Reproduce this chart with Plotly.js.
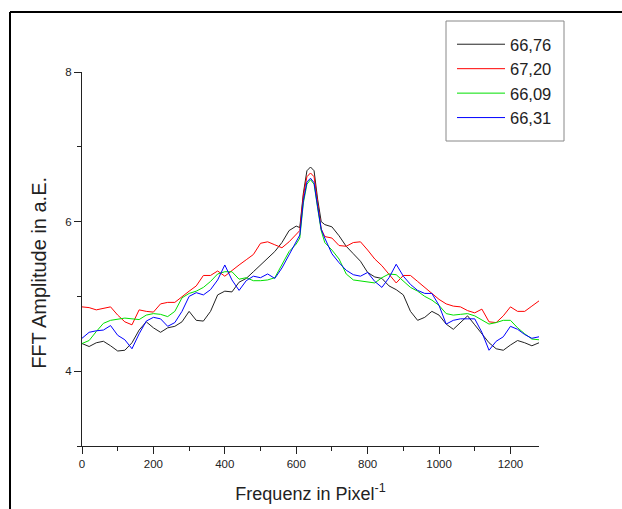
<!DOCTYPE html>
<html>
<head>
<meta charset="utf-8">
<script src="https://cdn.plot.ly/plotly-3.0.1.min.js"></script>
<style>
  html, body { margin: 0; padding: 0; background: #fff; }
  #chart { width: 622px; height: 509px; }
</style>
</head>
<body>
<div id="chart"></div>
<script>
// Frequency axis (Pixel^-1)
const freq = [0,20,40,60,80,100,120,140,160,180,200,220,240,260,280,300,320,340,360,380,400,420,440,460,480,500,520,540,560,580,600,
  610,620,630,640,650,660,670,680,
  700,720,740,760,780,800,820,840,860,880,900,920,940,960,980,1000,1020,1040,1060,1080,1100,1120,1140,1160,1180,1200,1220,1240,1260,1280];

const seriesNames = ["66,76", "67,20", "66,09", "66,31"];

const amp6676 = [4.37,4.33,4.38,4.40,4.34,4.27,4.28,4.38,4.55,4.66,4.58,4.52,4.58,4.60,4.66,4.80,4.68,4.67,4.80,5.02,5.07,5.06,5.19,5.24,5.33,5.42,5.50,5.60,5.72,5.88,5.94,
  5.92,6.38,6.68,6.73,6.68,6.30,6.00,5.96,
  5.93,5.81,5.67,5.57,5.47,5.32,5.26,5.24,5.14,5.09,5.02,4.80,4.68,4.72,4.80,4.75,4.63,4.56,4.65,4.74,4.62,4.50,4.38,4.30,4.28,4.35,4.41,4.38,4.34,4.38];

const amp6720 = [4.86,4.85,4.82,4.84,4.86,4.75,4.66,4.62,4.82,4.80,4.79,4.90,4.92,4.92,5.00,5.07,5.14,5.28,5.28,5.34,5.27,5.35,5.42,5.49,5.56,5.71,5.73,5.69,5.65,5.73,5.83,
  5.88,6.35,6.60,6.65,6.60,6.25,5.90,5.80,
  5.78,5.68,5.67,5.72,5.73,5.62,5.50,5.41,5.30,5.18,5.28,5.28,5.20,5.12,5.04,4.96,4.90,4.87,4.86,4.81,4.78,4.83,4.66,4.65,4.74,4.86,4.80,4.80,4.87,4.94];

const amp6609 = [4.37,4.41,4.53,4.64,4.68,4.70,4.71,4.70,4.69,4.75,4.77,4.76,4.73,4.80,4.98,5.04,5.07,5.12,5.20,5.30,5.33,5.33,5.23,5.25,5.21,5.21,5.22,5.25,5.42,5.60,5.70,
  5.78,6.25,6.50,6.56,6.50,6.18,5.88,5.72,
  5.62,5.50,5.30,5.22,5.21,5.20,5.18,5.25,5.30,5.29,5.20,5.12,5.07,5.00,4.95,4.88,4.77,4.75,4.76,4.77,4.74,4.69,4.63,4.65,4.68,4.68,4.58,4.50,4.43,4.42];

const amp6631 = [4.44,4.52,4.54,4.55,4.61,4.48,4.42,4.30,4.50,4.67,4.72,4.70,4.60,4.65,4.80,5.00,5.05,5.02,5.09,5.22,5.42,5.22,5.08,5.21,5.27,5.25,5.30,5.24,5.38,5.56,5.74,
  5.82,6.28,6.53,6.58,6.52,6.20,5.90,5.78,
  5.57,5.45,5.35,5.29,5.27,5.32,5.20,5.12,5.25,5.43,5.27,5.16,5.08,5.04,5.04,4.88,4.63,4.68,4.70,4.70,4.70,4.52,4.28,4.40,4.46,4.60,4.56,4.49,4.44,4.46];

const xTickVals = [0,200,400,600,800,1000,1200];
const yTickVals = [4,6,8];

const colors = ["#222222", "#ff0000", "#00e000", "#0000ff"];
const ampSeries = [amp6676, amp6720, amp6609, amp6631];

const traces = ampSeries.map((a, i) => ({
  x: freq, y: a, type: "scatter", mode: "lines", name: seriesNames[i],
  line: { color: colors[i], width: 1 }
}));

// geometry helpers (pixel -> paper)
const L = 82, R = 83, T = 72, B = 63, W = 622, H = 509;
const pw = W - L - R, ph = H - T - B;
const px = p => (p - L) / pw;
const py = p => (H - B - p) / ph;

const layout = {
  width: W, height: H,
  margin: { l: L, r: R, t: T, b: B, pad: 0 },
  paper_bgcolor: "#fff", plot_bgcolor: "#fff",
  font: { family: "Liberation Sans, Arial, sans-serif", color: "#222" },
  showlegend: true,
  legend: {
    x: px(452), y: py(27), xanchor: "left", yanchor: "top",
    bgcolor: "rgba(0,0,0,0)", borderwidth: 0,
    font: { size: 16.5, color: "#222" },
    itemwidth: 48, tracegroupgap: 0
  },
  xaxis: {
    range: [0, 1280], showgrid: false, zeroline: false,
    showline: true, linecolor: "#222", linewidth: 1, mirror: false,
    ticks: "outside", ticklen: 7, tickwidth: 1, tickcolor: "#222",
    tickvals: xTickVals, ticktext: xTickVals.map(String),
    minor: { dtick: 100, tick0: 0, ticks: "outside", ticklen: 4, tickcolor: "#222", showgrid: false },
    tickfont: { size: 11.5, color: "#222" },
    title: { text: "Frequenz in Pixel<sup>-1</sup>", font: { size: 18, color: "#222" }, standoff: 18 }
  },
  yaxis: {
    range: [3, 8], showgrid: false, zeroline: false,
    showline: true, linecolor: "#222", linewidth: 1,
    ticks: "outside", ticklen: 7, tickwidth: 1, tickcolor: "#222",
    tickvals: yTickVals, ticktext: yTickVals.map(String),
    minor: { dtick: 1, tick0: 3, ticks: "outside", ticklen: 4, tickcolor: "#222", showgrid: false },
    tickfont: { size: 11.5, color: "#222" },
    title: { text: "FFT Amplitude in a.E.&nbsp;&nbsp;&nbsp;&nbsp;&nbsp;", font: { size: 20, color: "#222" }, standoff: 13 }
  },
  shapes: [
    { type: "rect", xref: "paper", yref: "paper", x0: px(446), x1: px(564), y0: py(141), y1: py(21),
      line: { color: "#888", width: 1 }, fillcolor: "rgba(0,0,0,0)", layer: "below" },
    { type: "line", xref: "paper", yref: "paper", x0: px(10), x1: px(622), y0: py(12), y1: py(12),
      line: { color: "#000", width: 2 } },
    { type: "line", xref: "paper", yref: "paper", x0: px(10), x1: px(10), y0: py(12), y1: py(509),
      line: { color: "#000", width: 2 } }
  ]
};

Plotly.newPlot("chart", traces, layout, { displayModeBar: false, staticPlot: true });
</script>
</body>
</html>
